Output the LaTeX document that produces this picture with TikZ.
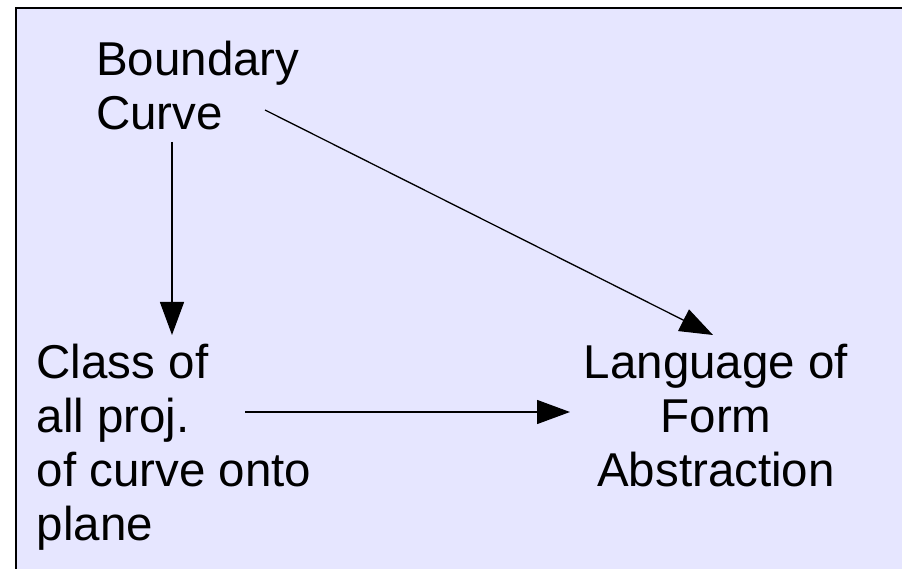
\documentclass[tikz,border=0pt]{standalone}
\usepackage{fontspec}
\setmainfont{Liberation Sans}
\usetikzlibrary{arrows.meta,calc}
\definecolor{panel}{RGB}{230,230,255}
\tikzset{
  label text/.style={inner sep=0pt, font=\fontsize{47.5}{54}\selectfont},
  flow/.style={line width=1.3pt, -{Triangle[length=33pt,width=24pt]}}
}
\begin{document}
\begin{tikzpicture}[x=1pt,y=-1pt]
  \useasboundingbox (0,0) rectangle (902,569);
  % panel with frame on the left and top edges
  \fill[panel] (16,8) rectangle (902,569);
  \draw[line width=2pt] (16,569) -- (16,8) -- (902,8);

  \node[label text, anchor=north west, align=left] (bc) at (96,41) {Boundary\\Curve};
  \node[label text, anchor=north west, align=left] (cl) at (36.5,344) {Class of\\all proj.\\of curve onto\\plane};
  \node[label text, anchor=north, align=center] (lf) at (716,344) {Language of\\Form\\Abstraction};

  \draw[flow] ($(bc.north west)+(76,101)$) -- ($(cl.north west)+(135.5,-9)$);
  \draw[flow] ($(cl.north west)+(208.5,68)$) -- ($(lf.north)+(-146,68)$);
  \draw[flow] ($(bc.north west)+(169,69)$) -- ($(lf.north)+(-3,-9)$);
\end{tikzpicture}
\end{document}
